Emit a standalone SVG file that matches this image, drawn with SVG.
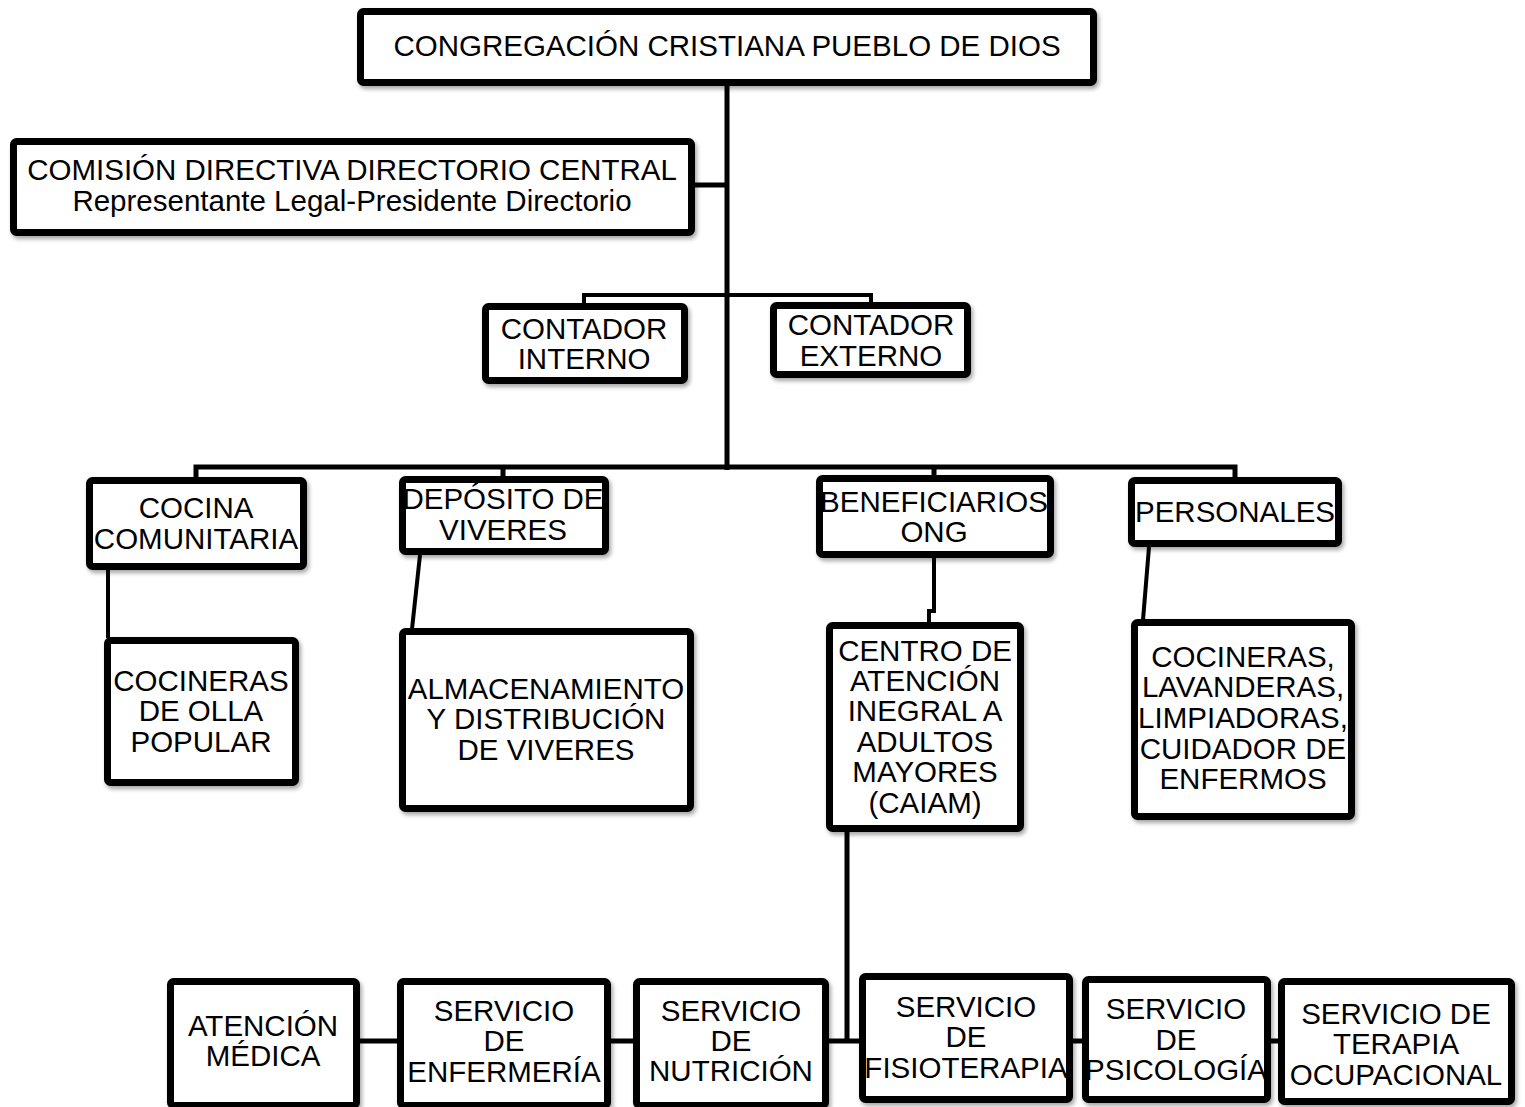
<svg xmlns="http://www.w3.org/2000/svg" width="1525" height="1107" viewBox="0 0 1525 1107">
<defs>
<filter id="sh" x="-10%" y="-10%" width="130%" height="140%">
<feDropShadow dx="2" dy="3" stdDeviation="2" flood-color="#000" flood-opacity="0.35"/>
</filter>
<style>
.box{fill:#fff;stroke:#000;stroke-width:7;filter:url(#sh)}
.t{font-family:"Liberation Sans",Arial,Helvetica,sans-serif;font-size:29.5px;text-anchor:middle;fill:#000}
.c{fill:none;stroke:#000;stroke-width:5}
.c4{fill:none;stroke:#000;stroke-width:4}
</style>
</defs>
<rect width="1525" height="1107" fill="#fff"/>
<g id="connectors">
<path class="c" d="M727 86 V470"/>
<path class="c" d="M695 185 H727"/>
<path class="c4" d="M584 304 V295 H871 V303"/>
<path class="c" d="M196 478 V467 H1235 V478 M503 467 V477 M934 467 V476"/>
<path class="c4" d="M108 570 V638"/>
<path class="c4" d="M420 555 L412 629"/>
<path class="c4" d="M934 558 V611 H929 V623"/>
<path class="c4" d="M1149 547 L1143 620"/>
<path class="c" d="M847 832 V1043"/>
<path class="c" d="M360 1041 H1280"/>
</g>
<g id="n-congregacion"><rect class="box" x="360.5" y="11.5" width="733" height="71" rx="3"/><text class="t" x="727" y="56">CONGREGACIÓN CRISTIANA PUEBLO DE DIOS</text></g>
<g id="n-comision"><rect class="box" x="13.5" y="141.5" width="678" height="91" rx="3"/><text class="t" x="352" y="180">COMISIÓN DIRECTIVA DIRECTORIO CENTRAL</text><text class="t" x="352" y="211">Representante Legal-Presidente Directorio</text></g>
<g id="n-contador-interno"><rect class="box" x="485.5" y="306.5" width="199" height="74" rx="3"/><text class="t" x="584" y="339">CONTADOR</text><text class="t" x="584" y="369">INTERNO</text></g>
<g id="n-contador-externo"><rect class="box" x="773.5" y="305.5" width="194" height="69" rx="3"/><text class="t" x="871" y="335">CONTADOR</text><text class="t" x="871" y="366">EXTERNO</text></g>
<g id="n-cocina"><rect class="box" x="89.5" y="480.5" width="214" height="86" rx="3"/><text class="t" x="196" y="518">COCINA</text><text class="t" x="196" y="549">COMUNITARIA</text></g>
<g id="n-deposito"><rect class="box" x="402.5" y="479.5" width="203" height="72" rx="3"/><text class="t" x="503" y="509">DEPÓSITO DE</text><text class="t" x="503" y="540">VIVERES</text></g>
<g id="n-beneficiarios"><rect class="box" x="819.5" y="478.5" width="231" height="76" rx="3"/><text class="t" x="934" y="512">BENEFICIARIOS</text><text class="t" x="934" y="542">ONG</text></g>
<g id="n-personales"><rect class="box" x="1131.5" y="480.5" width="207" height="63" rx="3"/><text class="t" x="1235" y="522">PERSONALES</text></g>
<g id="n-cocineras-olla"><rect class="box" x="107.5" y="640.5" width="188" height="142" rx="3"/><text class="t" x="201" y="691">COCINERAS</text><text class="t" x="201" y="721">DE OLLA</text><text class="t" x="201" y="752">POPULAR</text></g>
<g id="n-almacenamiento"><rect class="box" x="402.5" y="631.5" width="288" height="177" rx="3"/><text class="t" x="546" y="699">ALMACENAMIENTO</text><text class="t" x="546" y="729">Y DISTRIBUCIÓN</text><text class="t" x="546" y="760">DE VIVERES</text></g>
<g id="n-caiam"><rect class="box" x="829.5" y="625.5" width="191" height="203" rx="3"/><text class="t" x="925" y="661">CENTRO DE</text><text class="t" x="925" y="691">ATENCIÓN</text><text class="t" x="925" y="721">INEGRAL A</text><text class="t" x="925" y="752">ADULTOS</text><text class="t" x="925" y="782">MAYORES</text><text class="t" x="925" y="813">(CAIAM)</text></g>
<g id="n-cocineras-lav"><rect class="box" x="1134.5" y="622.5" width="217" height="194" rx="3"/><text class="t" x="1243" y="667">COCINERAS,</text><text class="t" x="1243" y="697">LAVANDERAS,</text><text class="t" x="1243" y="728">LIMPIADORAS,</text><text class="t" x="1243" y="759">CUIDADOR DE</text><text class="t" x="1243" y="789">ENFERMOS</text></g>
<g id="n-atencion"><rect class="box" x="170.5" y="981.5" width="186" height="124" rx="3"/><text class="t" x="263" y="1036">ATENCIÓN</text><text class="t" x="263" y="1066">MÉDICA</text></g>
<g id="n-enfermeria"><rect class="box" x="400.5" y="981.5" width="207" height="124" rx="3"/><text class="t" x="504" y="1021">SERVICIO</text><text class="t" x="504" y="1051">DE</text><text class="t" x="504" y="1082">ENFERMERÍA</text></g>
<g id="n-nutricion"><rect class="box" x="636.5" y="981.5" width="189" height="124" rx="3"/><text class="t" x="731" y="1021">SERVICIO</text><text class="t" x="731" y="1051">DE</text><text class="t" x="731" y="1081">NUTRICIÓN</text></g>
<g id="n-fisioterapia"><rect class="box" x="862.5" y="976.5" width="207" height="123" rx="3"/><text class="t" x="966" y="1017">SERVICIO</text><text class="t" x="966" y="1047">DE</text><text class="t" x="966" y="1078">FISIOTERAPIA</text></g>
<g id="n-psicologia"><rect class="box" x="1085.5" y="979.5" width="182" height="120" rx="3"/><text class="t" x="1176" y="1019">SERVICIO</text><text class="t" x="1176" y="1050">DE</text><text class="t" x="1176" y="1080">PSICOLOGÍA</text></g>
<g id="n-terapia"><rect class="box" x="1281.5" y="981.5" width="230" height="120" rx="3"/><text class="t" x="1396" y="1024">SERVICIO DE</text><text class="t" x="1396" y="1054">TERAPIA</text><text class="t" x="1396" y="1085">OCUPACIONAL</text></g>
</svg>
